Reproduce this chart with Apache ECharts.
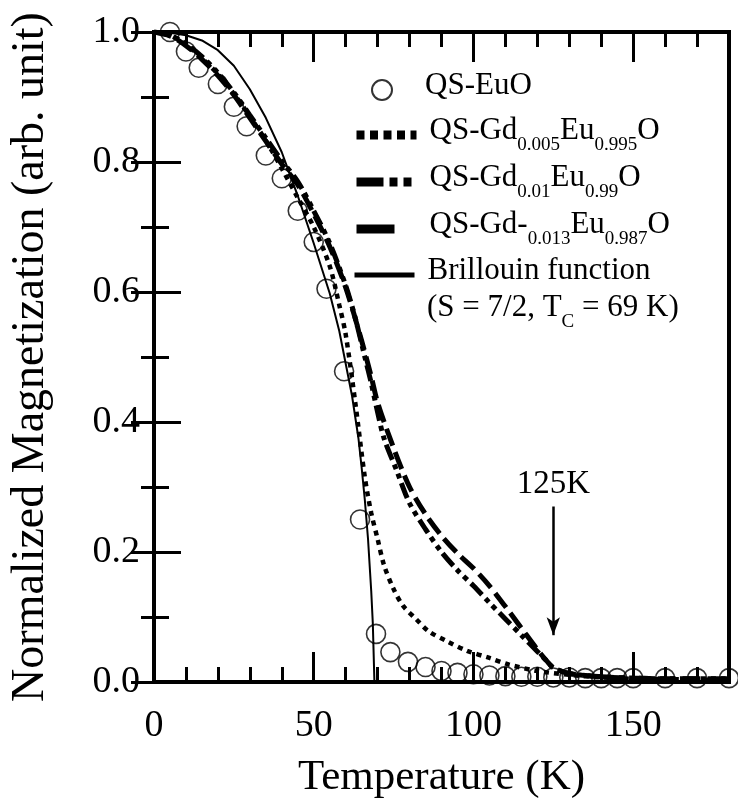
<!DOCTYPE html>
<html>
<head>
<meta charset="utf-8">
<script src="https://cdn.jsdelivr.net/npm/echarts@6/dist/echarts.min.js"></script>
<style>html,body{margin:0;padding:0;background:#fff}#c{width:738px;height:805px}</style>
</head>
<body>
<div id="c"></div>
<script>
// ---- data ----
var xTickLabels = [0, 50, 100, 150];
var yTickLabels = [0.0, 0.2, 0.4, 0.6, 0.8, 1.0];

var tempEuO = [5, 10, 14, 20, 25, 29, 35, 40, 45, 50, 54, 59.5, 64.5, 69.5, 74, 79.5, 85, 90, 95, 100, 105, 110, 115, 120, 125, 130, 135, 140, 145, 150, 160, 170, 180];
var magEuO  = [1.0, 0.97, 0.945, 0.92, 0.885, 0.855, 0.81, 0.775, 0.725, 0.677, 0.605, 0.478, 0.25, 0.074, 0.046, 0.031, 0.023, 0.017, 0.014, 0.012, 0.01, 0.009, 0.008, 0.008, 0.007, 0.007, 0.006, 0.006, 0.006, 0.006, 0.006, 0.006, 0.006];

var temp005 = [0, 5, 10, 15, 20, 25, 30, 35, 40, 45, 50, 55, 58, 60, 63, 66, 68, 70, 72, 75, 78, 82, 86, 92, 98, 105, 111, 120, 130, 140, 150, 165, 180];
var mag005  = [1.0, 0.995, 0.98, 0.96, 0.935, 0.905, 0.87, 0.833, 0.79, 0.745, 0.70, 0.64, 0.58, 0.535, 0.43, 0.315, 0.26, 0.22, 0.18, 0.143, 0.117, 0.097, 0.078, 0.062, 0.048, 0.037, 0.027, 0.017, 0.011, 0.007, 0.005, 0.004, 0.003];

var temp01 = [0, 5, 10, 15, 20, 25, 30, 35, 40, 45, 50, 55, 60, 63, 66, 68, 70, 72, 76, 80, 85, 90, 95, 100, 105, 110, 115, 120, 123, 125, 130, 140, 150, 160, 170, 180];
var mag01  = [1.0, 0.995, 0.982, 0.962, 0.937, 0.907, 0.872, 0.837, 0.802, 0.77, 0.725, 0.675, 0.61, 0.56, 0.5, 0.46, 0.415, 0.375, 0.325, 0.275, 0.235, 0.2, 0.172, 0.148, 0.122, 0.097, 0.072, 0.047, 0.032, 0.022, 0.013, 0.008, 0.006, 0.005, 0.005, 0.005];

var temp013 = [0, 5, 10, 15, 20, 25, 30, 35, 40, 45, 50, 55, 60, 65, 68, 70, 75, 80, 85, 90, 95, 100, 105, 110, 115, 120, 123, 125, 130, 140, 150, 160, 170, 180];
var mag013  = [1.0, 0.994, 0.979, 0.958, 0.933, 0.903, 0.868, 0.832, 0.797, 0.765, 0.72, 0.67, 0.607, 0.525, 0.47, 0.43, 0.36, 0.3, 0.258, 0.225, 0.198, 0.175, 0.148, 0.116, 0.083, 0.05, 0.032, 0.022, 0.013, 0.008, 0.006, 0.005, 0.005, 0.005];

var tempB = [0, 5, 10, 15, 20, 25, 30, 35, 40, 45, 50, 55, 58, 60, 62, 64, 65, 66, 67, 68, 68.5, 69, 70, 80, 100, 120, 140, 160, 180];
var magB  = [1.0, 0.999, 0.995, 0.987, 0.972, 0.948, 0.912, 0.868, 0.815, 0.748, 0.675, 0.598, 0.54, 0.49, 0.44, 0.375, 0.33, 0.28, 0.22, 0.14, 0.09, 0.0, 0.0, 0.0, 0.0, 0.0, 0.0, 0.0, 0.0];

var arrowTemp = 125;
var arrowFrom = 0.27;
var arrowTo = 0.072;

function zip(a, b) { return a.map(function (v, i) { return [v, b[i]]; }); }

var FONT = "'Liberation Serif', 'Times New Roman', serif";
var rich = {
  n: { fontSize: 31, fontFamily: FONT, color: '#000', lineHeight: 40, verticalAlign: 'top' },
  s: { fontSize: 19, fontFamily: FONT, color: '#000', lineHeight: 19, padding: [21, 0, 0, 0], verticalAlign: 'top' }
};
var legendText = {
  'QS-EuO': '{n|QS-EuO}',
  'QS-Gd0.005Eu0.995O': '{n|QS-Gd}{s|0.005}{n|Eu}{s|0.995}{n|O}',
  'QS-Gd0.01Eu0.99O': '{n|QS-Gd}{s|0.01}{n|Eu}{s|0.99}{n|O}',
  'QS-Gd-0.013Eu0.987O': '{n|QS-Gd-}{s|0.013}{n|Eu}{s|0.987}{n|O}',
  'Brillouin function': '{n|Brillouin function}'
};
function leg(name, centerY, left, pad, extra) {
  var o = {
    data: [name], left: left, top: centerY - 20, orient: 'vertical',
    itemWidth: 60, itemHeight: 20, selectedMode: false,
    formatter: function (n) { return legendText[n]; },
    textStyle: { rich: rich, padding: [0, 0, 0, pad] }
  };
  for (var k in extra) o[k] = extra[k];
  return o;
}
var hideSym = { opacity: 0 };

var chart = echarts.init(document.getElementById('c'), null, { renderer: 'canvas' });
var tickStyle = { color: '#000', width: 3 };
var option = {
  backgroundColor: '#fff',
  animation: false,
  color: ['#000'],
  grid: { left: 148, top: 32, right: 9, bottom: 123, show: true, borderColor: '#000', borderWidth: 4, containLabel: false },
  legend: [
    leg('QS-EuO', 85, 366, 8, {}),
    leg('QS-Gd0.005Eu0.995O', 130, 347, 8, { itemStyle: hideSym, lineStyle: { width: 9, type: [8, 5.5], cap: 'butt' } }),
    leg('QS-Gd0.01Eu0.99O', 177, 347, 8, { itemStyle: hideSym, lineStyle: { width: 9, type: [27, 6, 8, 6, 8, 20], cap: 'butt' } }),
    leg('QS-Gd-0.013Eu0.987O', 224, 347, 8, { itemStyle: hideSym, lineStyle: { width: 9, type: [38, 40], cap: 'butt' } }),
    leg('Brillouin function', 270, 347, 8, { itemStyle: hideSym, lineStyle: { width: 5 } })
  ],
  graphic: [{
    type: 'text', left: 427, top: 292,
    style: { text: '{n|(S = 7/2, T}{s|C}{n| = 69 K)}', rich: rich }
  }],
  xAxis: [
    { type: 'value', min: 0, max: 180, interval: 10, position: 'bottom',
      axisLine: { show: false }, splitLine: { show: false },
      axisTick: { inside: true, length: 15, lineStyle: tickStyle }, axisLabel: { show: false } },
    { type: 'value', min: 0, max: 180, interval: 50, position: 'bottom',
      axisLine: { show: false }, splitLine: { show: false },
      axisTick: { inside: true, length: 30, customValues: [50, 100, 150], lineStyle: tickStyle },
      axisLabel: { customValues: xTickLabels, fontSize: 38, fontFamily: FONT, color: '#000', margin: 25 },
      name: 'Temperature (K)', nameLocation: 'middle', nameGap: 74,
      nameTextStyle: { fontSize: 43, fontFamily: FONT, color: '#000' } },
    { type: 'value', min: 0, max: 180, interval: 10, position: 'top',
      axisLine: { show: false }, splitLine: { show: false },
      axisTick: { inside: true, length: 15, lineStyle: tickStyle }, axisLabel: { show: false } },
    { type: 'value', min: 0, max: 180, interval: 50, position: 'top',
      axisLine: { show: false }, splitLine: { show: false },
      axisTick: { inside: true, length: 30, customValues: [50, 100, 150], lineStyle: tickStyle }, axisLabel: { show: false } }
  ],
  yAxis: [
    { type: 'value', min: 0, max: 1.0, interval: 0.2, position: 'left',
      axisLine: { show: false }, splitLine: { show: false },
      axisTick: { inside: true, length: 27, lineStyle: tickStyle },
      minorTick: { show: true, splitNumber: 2, length: 15, lineStyle: tickStyle },
      axisLabel: { customValues: yTickLabels, formatter: function (v) { return v.toFixed(1); }, fontSize: 38, fontFamily: FONT, color: '#000', margin: 14 },
      name: 'Normalized Magnetization (arb. unit)', nameLocation: 'middle', nameGap: 100,
      nameTextStyle: { fontSize: 46, fontFamily: FONT, color: '#000' } },
    { type: 'value', min: 0, max: 1.0, interval: 0.2, position: 'right',
      axisLine: { show: false }, splitLine: { show: false },
      axisTick: { inside: true, length: 23, lineStyle: tickStyle },
      minorTick: { show: true, splitNumber: 2, length: 13, lineStyle: tickStyle },
      axisLabel: { show: false } }
  ],
  series: [
    { name: 'QS-EuO', type: 'scatter', data: zip(tempEuO, magEuO), symbol: 'circle', symbolSize: 19, clip: false, z: 4,
      itemStyle: { color: 'rgba(255,255,255,0)', borderColor: '#000', borderWidth: 1.6 } },
    { name: 'QS-Gd0.005Eu0.995O', type: 'line', data: zip(temp005, mag005), symbol: 'none', smooth: 0.3,
      itemStyle: { color: '#000' },
      lineStyle: { color: '#000', width: 4.5, type: [5, 5] } },
    { name: 'QS-Gd0.01Eu0.99O', type: 'line', data: zip(temp01, mag01), symbol: 'none', smooth: 0.3,
      itemStyle: { color: '#000' },
      lineStyle: { color: '#000', width: 5, type: [16, 5, 5, 5, 5, 5] } },
    { name: 'QS-Gd-0.013Eu0.987O', type: 'line', data: zip(temp013, mag013), symbol: 'none', smooth: 0.3,
      itemStyle: { color: '#000' },
      lineStyle: { color: '#000', width: 5, type: [18, 7] } },
    { name: 'Brillouin function', type: 'line', data: zip(tempB, magB), symbol: 'none', smooth: false,
      itemStyle: { color: '#000' },
      lineStyle: { color: '#000', width: 2, type: 'solid' },
      markLine: {
        silent: true, symbol: ['none', 'arrow'], symbolSize: [10, 18], animation: false,
        lineStyle: { color: '#000', width: 2.5, type: 'solid' },
        label: { show: true, position: 'start', formatter: '125K', fontSize: 33, fontFamily: FONT, color: '#000', distance: 6 },
        data: [[{ coord: [arrowTemp, arrowFrom] }, { coord: [arrowTemp, arrowTo] }]]
      } }
  ]
};
chart.setOption(option);
</script>
</body>
</html>
